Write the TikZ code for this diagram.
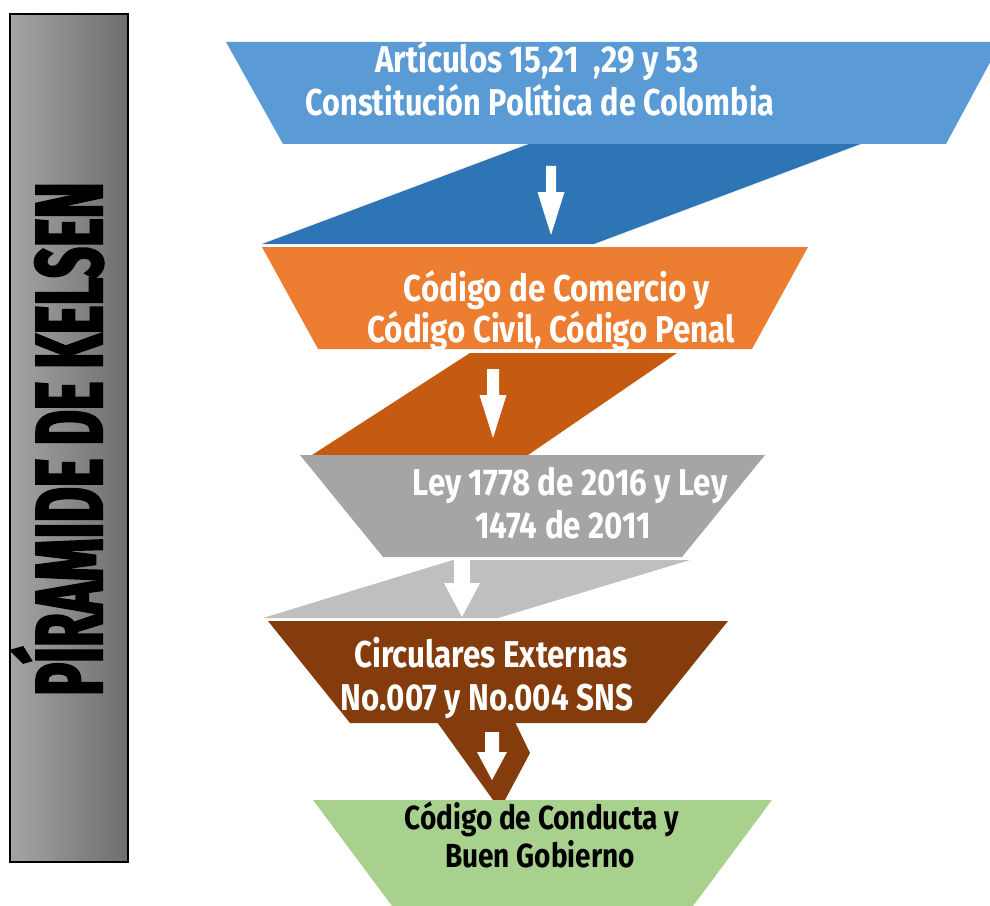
\documentclass[tikz,border=0pt]{standalone}
\usepackage{fontspec}
\setmainfont{Fira Sans}
\newfontfamily\boxfont{Fira Sans}[FakeStretch=0.84]
\newfontfamily\titlefont{Fira Sans}[FakeStretch=0.575,FakeBold=2.5]
\definecolor{bluetop}{HTML}{5B9BD5}
\definecolor{bluedark}{HTML}{2E75B6}
\definecolor{orangetop}{HTML}{ED7D31}
\definecolor{orangedark}{HTML}{C55A11}
\definecolor{graytop}{HTML}{A5A5A5}
\definecolor{graylight}{HTML}{BFBFBF}
\definecolor{browntop}{HTML}{843C0C}
\definecolor{greentop}{HTML}{A9D18E}
\definecolor{panelL}{HTML}{A4A4A4}
\definecolor{panelR}{HTML}{6E6E6E}
\newcommand\blockarr[6]{\fill[white] ({#1-#5/2},#2) -- ({#1+#5/2},#2) -- ({#1+#5/2},#3) -- ({#1+#6/2},#3) -- (#1,#4) -- ({#1-#6/2},#3) -- ({#1-#5/2},#3) -- cycle;}
\begin{document}
\begin{tikzpicture}[x=0.75pt,y=-0.75pt,
  txt/.style={text=white, font=\boxfont\bfseries\fontsize{28}{30}\selectfont, anchor=base, inner sep=0pt},
  txtdark/.style={txt, text=black, font=\boxfont\bfseries\fontsize{25}{27}\selectfont}]
\useasboundingbox (0,0) rectangle (990,906);
% side panel
\draw[left color=panelL, right color=panelR, draw=black, line width=0.8pt] (10,14) rectangle (128,862);
\node[rotate=90, anchor=base, inner sep=0pt, text=black,
  font=\titlefont\bfseries\fontsize{71}{71}\selectfont] (title) at (102,439) {PÍRAMIDE DE KELSEN};
% parallelograms (connectors between levels)
\fill[bluedark] (534,142) -- (866,142) -- (594,244) -- (262,244) -- cycle;
\fill[orangedark] (470,353) -- (677,353) -- (528,455) -- (312,455) -- cycle;
\fill[graylight] (453,560) -- (690,560) -- (498,618) -- (263,618) -- cycle;
\fill[browntop] (437,722) -- (515,722) -- (530,753) -- (505,800) -- (493,800) -- cycle;
% trapezoids
\fill[bluetop] (226,42) -- (1001,42) -- (946,144) -- (283,144) -- cycle;
\fill[orangetop] (262,247) -- (808,247) -- (752,349) -- (318,349) -- cycle;
\fill[graytop] (300,455) -- (765,455) -- (682,557) -- (383,557) -- cycle;
\fill[browntop] (268,621) -- (728,621) -- (646,723) -- (350,723) -- cycle;
\fill[greentop] (313,800) -- (772,800) -- (693,906) -- (392,906) -- cycle;
% arrows
\blockarr{551}{166}{192}{235}{10}{27}
\blockarr{493}{369}{395}{438}{12}{27}
\blockarr{462}{560}{583}{617}{16}{36}
\blockarr{492}{732}{752}{780}{14}{30}
% texts
\node[txt] (t1a) at (537,73) {Artículos 15,21\ \ ,29 y 53};
\node[txt] (t1b) at (540,116) {\addfontfeatures{FakeStretch=0.82}Constitución Política de Colombia};
\node[txt] (t2a) at (557,301) {Código de Comercio y};
\node[txt] (t2b) at (551,342) {Código Civil, Código Penal};
\node[txt] (t3a) at (570,495) {Ley 1778 de 2016 y Ley};
\node[txt] (t3b) at (563,538) {1474 de 2011};
\node[txt] (t4a) at (491,667) {Circulares Externas};
\node[txt] (t4b) at (487,710) {No.007 y No.004 SNS};
\node[txtdark] (t5a) at (542,829) {Código de Conducta y};
\node[txtdark] (t5b) at (540,867) {Buen Gobierno};
\end{tikzpicture}
\end{document}
